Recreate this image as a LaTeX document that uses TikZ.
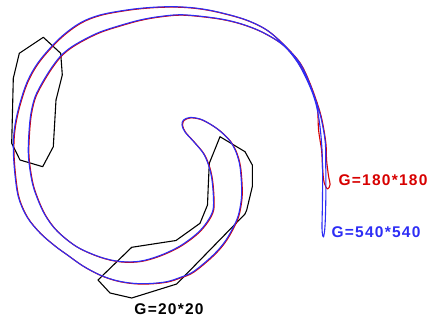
\documentclass[tikz,border=0pt]{standalone}
\usepackage{fontspec}
\setmainfont{Liberation Sans}
\usepackage{xcolor}
\usepackage{tikz}
\usetikzlibrary{positioning}

\definecolor{gridred}{RGB}{215,0,0}
\definecolor{gridblue}{RGB}{45,45,245}

\begin{document}
\begin{tikzpicture}[
x=1pt, y=-1pt,
blob/.style={
    draw=black,
    line width=1.1pt,
    line join=round
},
contour/.style={
    line width=1.1pt,
    line join=round
},
lbl/.style={
    inner sep=0pt,
    font=\bfseries\fontsize{15.5}{18}\selectfont\addfontfeature{LetterSpace=8}
}
]
\useasboundingbox (0,0) rectangle (427,320);

% Coarse grid
\draw[blob] (43.3,37.3) -- (19.3,53.3) -- (13.3,78.3) -- (11.7,143.3) -- (20,160)
  -- (42.7,166.7) -- (53.3,146.7) -- (56,100) -- (62.3,75) -- (60.7,53.3) -- cycle;
\draw[blob] (220,136.7) -- (245,151.7) -- (252.3,165) -- (252.3,186.7) -- (246.7,210)
  -- (245,214) -- (176.7,284) -- (131.7,298) -- (110,293) -- (98,280) -- (131.7,247.3)
  -- (176,240.5) -- (200,223.3) -- (207.5,205) -- (208.3,185) -- (209.3,163.3) -- cycle;

% Medium grid
\draw[contour,draw=gridred,shift={(0.6,0.4)}] plot[smooth cycle,tension=0.55] coordinates {
  (327,188.5) (329.5,184) (328,176) (326,160) (325.3,143) (321.5,120) (316.7,103)
  (309,82) (300,63.3) (285,46) (266.7,30) (245,19.5) (216.7,11.7) (195,8) (173.3,6.7)
  (150,7.5) (126.7,10) (100,15) (80,23) (60,38) (40,60) (28,80) (20,103) (15,125)
  (13.3,145) (14.5,170) (18.3,196.7) (27,217) (40,233) (55,246) (66.7,254.5) (83,266)
  (100,275) (116,280.5) (133,283.3) (150,283.5) (166.7,281.7) (180,277.5) (193.3,271.7)
  (213.3,255) (226,240) (236.7,220) (240.5,205) (241.7,190) (240,166.7) (236,152)
  (230,141) (220,131) (210,124) (200,119) (190,117.5) (183.5,120) (182,125) (185,132)
  (194,142) (203.3,153.3) (208.5,165) (211.7,178) (213.3,195) (213,210) (207,222)
  (197,233.5) (180,246) (160,255.5) (140,261.2) (120,261.5) (100,257) (76.7,246.7)
  (57,231) (45,215) (36.7,196.7) (31.7,180) (28.3,153) (30,120) (34,100) (40,86.7)
  (50,70) (60,56.7) (70,48) (83.3,40) (100,32) (120,25.5) (140,20) (160,16.5)
  (183,14.8) (216.7,18.3) (240,23.5) (262,32) (283,45) (298,63) (310,86.7) (316.5,106)
  (318,130) (321,150) (322,168) (323.5,182)};

% Fine grid
\draw[contour,draw=gridblue] plot[smooth cycle,tension=0.55] coordinates {
  (323.5,237) (325,226) (325.8,200) (325.8,170) (325.3,143) (321.5,120) (316.7,103)
  (309,82) (300,63.3) (285,46) (266.7,30) (245,19.5) (216.7,11.7) (195,8) (173.3,6.7)
  (150,7.5) (126.7,10) (100,15) (80,23) (60,38) (40,60) (28,80) (20,103) (15,125)
  (13.3,145) (14.5,170) (18.3,196.7) (27,217) (40,233) (55,246) (66.7,254.5) (83,266)
  (100,275) (116,280.5) (133,283.3) (150,283.5) (166.7,281.7) (180,277.5) (193.3,271.7)
  (213.3,255) (226,240) (236.7,220) (240.5,205) (241.7,190) (240,166.7) (236,152)
  (230,141) (220,131) (210,124) (200,119) (190,117.5) (183.5,120) (182,125) (185,132)
  (194,142) (203.3,153.3) (208.5,165) (211.7,178) (213.3,195) (213,210) (207,222)
  (197,233.5) (180,246) (160,255.5) (140,261.2) (120,261.5) (100,257) (76.7,246.7)
  (57,231) (45,215) (36.7,196.7) (31.7,180) (28.3,153) (30,120) (34,100) (40,86.7)
  (50,70) (60,56.7) (70,48) (83.3,40) (100,32) (120,25.5) (140,20) (160,16.5)
  (183,14.8) (216.7,18.3) (240,23.5) (262,32) (283,45) (298,63) (310,86.7) (316.5,106)
  (320,126.7) (322,150) (322.6,175) (322.4,205) (322,225) (322.3,233)};

% Labels
\node[lbl,text=gridred] (g180) at (383,180.5) {G=180*180};
\node[lbl,text=gridblue] (g540) at (376,232.5) {G=540*540};
\node[lbl,text=black] (g20) at (169,309) {G=20*20};

\end{tikzpicture}
\end{document}
